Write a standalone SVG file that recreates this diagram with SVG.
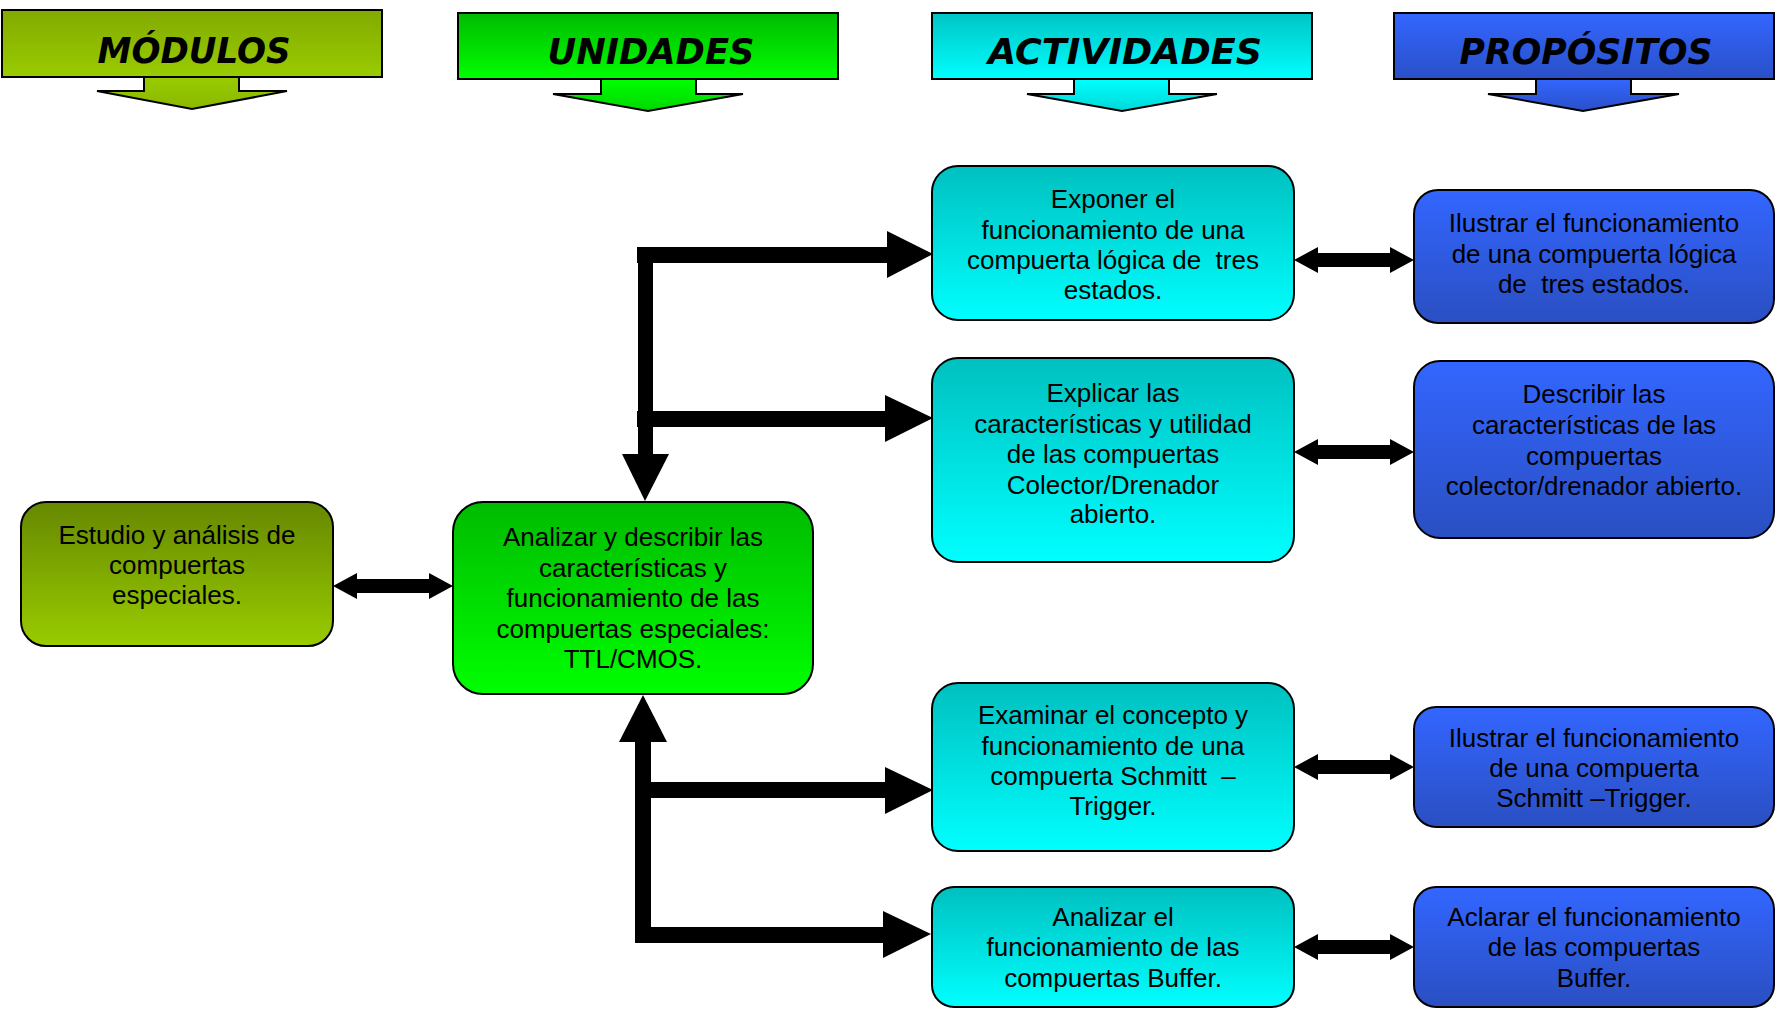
<svg xmlns="http://www.w3.org/2000/svg" width="1776" height="1011" viewBox="0 0 1776 1011">
<style>
.nt { font-family: "Liberation Sans", Arial, sans-serif; font-size: 26px; text-anchor: middle; fill: #000; }
.ht { font-family: "DejaVu Sans", sans-serif; font-size: 36px; font-weight: bold; font-style: italic; text-anchor: middle; fill: #000; }
.node { stroke: #000; stroke-width: 2; }
.hdr { stroke: #000; stroke-width: 2; }
.conn { fill: #000; }
</style>
<defs>
<linearGradient id="gM" x1="0" y1="0" x2="0" y2="1"><stop offset="0" stop-color="#668800"/><stop offset="1" stop-color="#99cc00"/></linearGradient>
<linearGradient id="gU" x1="0" y1="0" x2="0" y2="1"><stop offset="0" stop-color="#00bb00"/><stop offset="1" stop-color="#00ff00"/></linearGradient>
<linearGradient id="gA" x1="0" y1="0" x2="0" y2="1"><stop offset="0" stop-color="#00c0c0"/><stop offset="1" stop-color="#00ffff"/></linearGradient>
<linearGradient id="gP" x1="0" y1="0" x2="0" y2="1"><stop offset="0" stop-color="#3366ff"/><stop offset="1" stop-color="#2a4fc2"/></linearGradient>
<linearGradient id="hMb" x1="0" y1="0" x2="0" y2="1"><stop offset="0" stop-color="#82aa00"/><stop offset="1" stop-color="#99cc00"/></linearGradient>
<linearGradient id="hMa" x1="0" y1="0" x2="0" y2="1"><stop offset="0" stop-color="#99cc00"/><stop offset="1" stop-color="#8ab800"/></linearGradient>
<linearGradient id="hUb" x1="0" y1="0" x2="0" y2="1"><stop offset="0" stop-color="#00bb00"/><stop offset="1" stop-color="#00ff00"/></linearGradient>
<linearGradient id="hUa" x1="0" y1="0" x2="0" y2="1"><stop offset="0" stop-color="#00ff00"/><stop offset="1" stop-color="#00d800"/></linearGradient>
<linearGradient id="hAb" x1="0" y1="0" x2="0" y2="1"><stop offset="0" stop-color="#00c4c4"/><stop offset="1" stop-color="#00ffff"/></linearGradient>
<linearGradient id="hAa" x1="0" y1="0" x2="0" y2="1"><stop offset="0" stop-color="#00ffff"/><stop offset="1" stop-color="#00d8d8"/></linearGradient>
<linearGradient id="hPb" x1="0" y1="0" x2="0" y2="1"><stop offset="0" stop-color="#3366ff"/><stop offset="1" stop-color="#2a50c8"/></linearGradient>
<linearGradient id="hPa" x1="0" y1="0" x2="0" y2="1"><stop offset="0" stop-color="#3366ff"/><stop offset="1" stop-color="#2a50c8"/></linearGradient>
<path id="dbl" d="M0,0 L24,-13 L24,-7 L96,-7 L96,-13 L120,0 L96,13 L96,7 L24,7 L24,13 Z"/>
</defs>
<rect width="1776" height="1011" fill="#fff"/>

<g id="header-modulos">
<path class="hdr" fill="url(#hMa)" d="M144,77 L144,91 L97,91 L192,109 L287,91 L239,91 L239,77 Z"/>
<rect class="hdr" fill="url(#hMb)" x="2" y="10" width="380" height="67"/>
<text class="ht" x="194" y="63" textLength="193" lengthAdjust="spacingAndGlyphs">MÓDULOS</text>
</g>
<g id="header-unidades">
<path class="hdr" fill="url(#hUa)" d="M601,79 L601,94 L553,94 L648,111 L743,94 L696,94 L696,79 Z"/>
<rect class="hdr" fill="url(#hUb)" x="458" y="13" width="380" height="66"/>
<text class="ht" x="651" y="64" textLength="207" lengthAdjust="spacingAndGlyphs">UNIDADES</text>
</g>
<g id="header-actividades">
<path class="hdr" fill="url(#hAa)" d="M1074,79 L1074,94 L1027,94 L1122,111 L1217,94 L1169,94 L1169,79 Z"/>
<rect class="hdr" fill="url(#hAb)" x="932" y="13" width="380" height="66"/>
<text class="ht" x="1125" y="64" textLength="274" lengthAdjust="spacingAndGlyphs">ACTIVIDADES</text>
</g>
<g id="header-propositos">
<path class="hdr" fill="url(#hPa)" d="M1536,79 L1536,94 L1488,94 L1583,111 L1679,94 L1631,94 L1631,79 Z"/>
<rect class="hdr" fill="url(#hPb)" x="1394" y="13" width="380" height="66"/>
<text class="ht" x="1586" y="64" textLength="253" lengthAdjust="spacingAndGlyphs">PROPÓSITOS</text>
</g>

<g id="connectors" class="conn">
<!-- upper branch -->
<rect x="637" y="247" width="251" height="16"/>
<polygon points="887,231 933,254 887,278"/>
<rect x="637" y="411" width="249" height="16"/>
<polygon points="885,395 933,418 885,442"/>
<rect x="638" y="247" width="15" height="208"/>
<polygon points="622,454 669,454 645,501"/>
<!-- lower branch -->
<polygon points="619,742 667,742 643,695"/>
<rect x="635" y="741" width="16" height="202"/>
<rect x="635" y="782" width="251" height="16"/>
<polygon points="885,767 933,790 885,814"/>
<rect x="635" y="927" width="249" height="16"/>
<polygon points="883,911 931,934 883,958"/>
<!-- double arrows -->
<use href="#dbl" transform="translate(333,586)"/>
<use href="#dbl" transform="translate(1294,260)"/>
<use href="#dbl" transform="translate(1294,452)"/>
<use href="#dbl" transform="translate(1294,767)"/>
<use href="#dbl" transform="translate(1294,947)"/>
</g>

<g id="node-modulo">
<rect class="node" fill="url(#gM)" x="21" y="502" width="312" height="144" rx="25"/>
<text class="nt" x="177" y="544">Estudio y análisis de</text>
<text class="nt" x="177" y="574">compuertas</text>
<text class="nt" x="177" y="604">especiales.</text>
</g>

<g id="node-unidad">
<rect class="node" fill="url(#gU)" x="453" y="502" width="360" height="192" rx="30"/>
<text class="nt" x="633" y="546">Analizar y describir las</text>
<text class="nt" x="633" y="577">características y</text>
<text class="nt" x="633" y="607">funcionamiento de las</text>
<text class="nt" x="633" y="638">compuertas especiales:</text>
<text class="nt" x="633" y="668">TTL/CMOS.</text>
</g>

<g id="node-act1">
<rect class="node" fill="url(#gA)" x="932" y="166" width="362" height="154" rx="26"/>
<text class="nt" x="1113" y="208">Exponer el</text>
<text class="nt" x="1113" y="239">funcionamiento de una</text>
<text class="nt" x="1113" y="269" xml:space="preserve">compuerta lógica de  tres</text>
<text class="nt" x="1113" y="299">estados.</text>
</g>

<g id="node-act2">
<rect class="node" fill="url(#gA)" x="932" y="358" width="362" height="204" rx="26"/>
<text class="nt" x="1113" y="402">Explicar las</text>
<text class="nt" x="1113" y="433">características y utilidad</text>
<text class="nt" x="1113" y="463">de las compuertas</text>
<text class="nt" x="1113" y="494">Colector/Drenador</text>
<text class="nt" x="1113" y="523">abierto.</text>
</g>

<g id="node-act3">
<rect class="node" fill="url(#gA)" x="932" y="683" width="362" height="168" rx="26"/>
<text class="nt" x="1113" y="724">Examinar el concepto y</text>
<text class="nt" x="1113" y="755">funcionamiento de una</text>
<text class="nt" x="1113" y="785" xml:space="preserve">compuerta Schmitt  –</text>
<text class="nt" x="1113" y="815">Trigger.</text>
</g>

<g id="node-act4">
<rect class="node" fill="url(#gA)" x="932" y="887" width="362" height="120" rx="22"/>
<text class="nt" x="1113" y="926">Analizar el</text>
<text class="nt" x="1113" y="956">funcionamiento de las</text>
<text class="nt" x="1113" y="987">compuertas Buffer.</text>
</g>

<g id="node-prop1">
<rect class="node" fill="url(#gP)" x="1414" y="190" width="360" height="133" rx="24"/>
<text class="nt" x="1594" y="232">Ilustrar el funcionamiento</text>
<text class="nt" x="1594" y="263">de una compuerta lógica</text>
<text class="nt" x="1594" y="293" xml:space="preserve">de  tres estados.</text>
</g>

<g id="node-prop2">
<rect class="node" fill="url(#gP)" x="1414" y="361" width="360" height="177" rx="26"/>
<text class="nt" x="1594" y="403">Describir las</text>
<text class="nt" x="1594" y="434">características de las</text>
<text class="nt" x="1594" y="465">compuertas</text>
<text class="nt" x="1594" y="495">colector/drenador abierto.</text>
</g>

<g id="node-prop3">
<rect class="node" fill="url(#gP)" x="1414" y="707" width="360" height="120" rx="22"/>
<text class="nt" x="1594" y="747">Ilustrar el funcionamiento</text>
<text class="nt" x="1594" y="777">de una compuerta</text>
<text class="nt" x="1594" y="807">Schmitt –Trigger.</text>
</g>

<g id="node-prop4">
<rect class="node" fill="url(#gP)" x="1414" y="887" width="360" height="120" rx="22"/>
<text class="nt" x="1594" y="926">Aclarar el funcionamiento</text>
<text class="nt" x="1594" y="956">de las compuertas</text>
<text class="nt" x="1594" y="987">Buffer.</text>
</g>
</svg>
